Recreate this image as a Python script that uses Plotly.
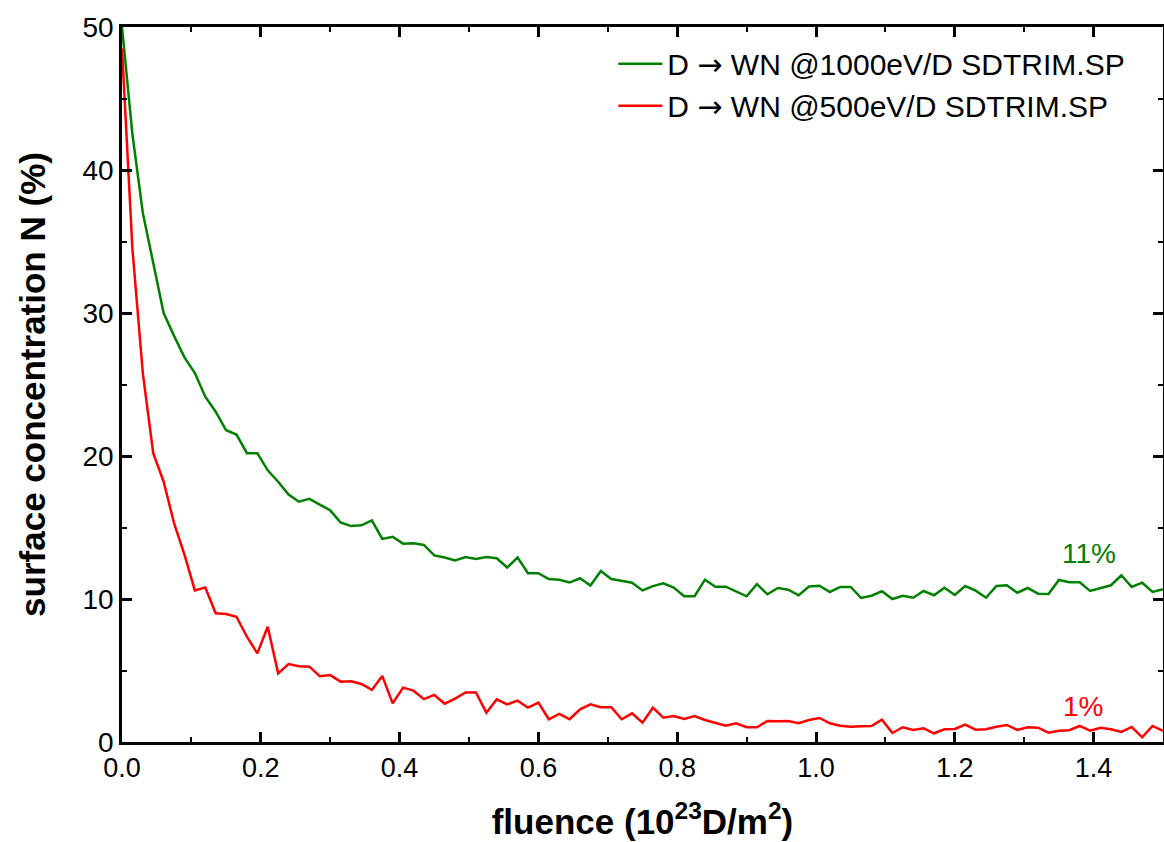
import plotly.graph_objects as go

fluence = [0.0, 0.015, 0.03, 0.045, 0.06, 0.075, 0.09, 0.105, 0.12, 0.135,
           0.15, 0.165, 0.18, 0.195, 0.21, 0.225, 0.24, 0.255, 0.27, 0.285,
           0.3, 0.315, 0.33, 0.345, 0.36, 0.375, 0.39, 0.405, 0.42, 0.435,
           0.45, 0.465, 0.48, 0.495, 0.51, 0.525, 0.54, 0.555, 0.57, 0.585,
           0.6, 0.615, 0.63, 0.645, 0.66, 0.675, 0.69, 0.705, 0.72, 0.735,
           0.75, 0.765, 0.78, 0.795, 0.81, 0.825, 0.84, 0.855, 0.87, 0.885,
           0.9, 0.915, 0.93, 0.945, 0.96, 0.975, 0.99, 1.005, 1.02, 1.035,
           1.05, 1.065, 1.08, 1.095, 1.11, 1.125, 1.14, 1.155, 1.17, 1.185,
           1.2, 1.215, 1.23, 1.245, 1.26, 1.275, 1.29, 1.305, 1.32, 1.335,
           1.35, 1.365, 1.38, 1.395, 1.41, 1.425, 1.44, 1.455, 1.47, 1.485,
           1.5]

conc_1000eV = [50.0, 42.5, 37.0, 33.5, 30.0, 28.4, 26.9, 25.8, 24.15, 23.1,
               21.8, 21.5, 20.2, 20.2, 19.0, 18.2, 17.3, 16.8, 17.0, 16.6,
               16.2, 15.35, 15.1, 15.15, 15.5, 14.2, 14.35, 13.87, 13.9, 13.78,
               13.05, 12.9, 12.7, 12.94, 12.8, 12.94, 12.85, 12.2, 12.9, 11.8,
               11.8, 11.4, 11.35, 11.15, 11.45, 10.95, 11.95, 11.4, 11.26, 11.14,
               10.6, 10.9, 11.1, 10.8, 10.2, 10.2, 11.35, 10.86, 10.86, 10.5,
               10.19, 11.05, 10.33, 10.77, 10.65, 10.26, 10.87, 10.93, 10.49, 10.84,
               10.84, 10.07, 10.23, 10.54, 10.0, 10.23, 10.09, 10.56, 10.26, 10.79,
               10.28, 10.91, 10.58, 10.09, 10.91, 10.96, 10.44, 10.77, 10.37, 10.35,
               11.33, 11.17, 11.17, 10.56, 10.75, 10.96, 11.66, 10.84, 11.14, 10.49,
               10.68]

conc_500eV = [48.5, 34.5, 25.8, 20.2, 18.2, 15.3, 13.1, 10.6, 10.8, 9.0,
              8.95, 8.76, 7.36, 6.2, 8.06, 4.8, 5.45, 5.3, 5.27, 4.6,
              4.68, 4.22, 4.24, 4.06, 3.64, 4.62, 2.7, 3.8, 3.59, 3.0,
              3.29, 2.68, 3.03, 3.47, 3.47, 2.05, 2.98, 2.63, 2.89, 2.4,
              2.75, 1.59, 1.96, 1.59, 2.29, 2.63, 2.43, 2.43, 1.59, 2.0,
              1.35, 2.4, 1.7, 1.82, 1.61, 1.82, 1.54, 1.35, 1.14, 1.31,
              1.03, 1.03, 1.47, 1.45, 1.47, 1.31, 1.54, 1.68, 1.31, 1.14,
              1.07, 1.1, 1.12, 1.56, 0.63, 1.03, 0.84, 0.96, 0.61, 0.89,
              0.91, 1.21, 0.86, 0.89, 1.07, 1.19, 0.84, 1.03, 1.0, 0.65,
              0.79, 0.82, 1.12, 0.79, 1.0, 0.89, 0.7, 1.05, 0.33, 1.12,
              0.77]

ARROW = '<span style="font-family:DejaVu Sans">\u2192</span>'
series_names = ["D " + ARROW + " WN @1000eV/D SDTRIM.SP",
                "D " + ARROW + " WN @500eV/D SDTRIM.SP"]
end_labels = ["11%", "1%"]
x_range = [0, 1.5]
y_range = [0, 50]
x_ticks = [0.0, 0.2, 0.4, 0.6, 0.8, 1.0, 1.2, 1.4]
x_ticktext = ["0.0", "0.2", "0.4", "0.6", "0.8", "1.0", "1.2", "1.4"]
y_ticks = [0, 10, 20, 30, 40, 50]

GREEN = "#008000"
RED = "#ff0000"
FONT = "Liberation Sans, Arial, Helvetica, sans-serif"

fig = go.Figure()
fig.add_trace(go.Scatter(x=fluence, y=conc_1000eV, mode="lines", name=series_names[0],
                         line=dict(color=GREEN, width=2.5), legendgroup="a"))
fig.add_trace(go.Scatter(x=fluence, y=conc_500eV, mode="lines", name=series_names[1],
                         line=dict(color=RED, width=2.5), legendgroup="b"))

fig.add_annotation(x=1.394, y=13.2, text=end_labels[0], showarrow=False,
                   font=dict(family=FONT, size=28, color=GREEN))
fig.add_annotation(x=1.384, y=2.5, text=end_labels[1], showarrow=False,
                   font=dict(family=FONT, size=28, color=RED))

axis_common = dict(showline=True, linecolor="black", linewidth=2.5, mirror=True,
                   ticks="inside", tickcolor="black", tickwidth=2.5, ticklen=10,
                   showgrid=False, zeroline=False, automargin=False)

fig.update_xaxes(range=x_range, tickvals=x_ticks, ticktext=x_ticktext,
                 tickfont=dict(family=FONT, size=27, color="black"),
                 minor=dict(dtick=0.1, tick0=0, ticks="inside", ticklen=5, tickwidth=2, tickcolor="black"),
                 title=dict(text="<b>fluence (10<sup>23</sup>D/m<sup>2</sup>)</b>",
                            font=dict(family=FONT, size=35, color="black"), standoff=28),
                 **axis_common)
fig.update_yaxes(range=y_range, tickvals=y_ticks,
                 tickfont=dict(family=FONT, size=28, color="black"),
                 minor=dict(dtick=5, tick0=0, ticks="inside", ticklen=5, tickwidth=2, tickcolor="black"),
                 title=dict(text="<b>surface concentration N (%)</b>",
                            font=dict(family=FONT, size=35, color="black"), standoff=27),
                 **axis_common)

# top and right axes carrying the mirrored inside ticks
fig.update_layout(
    xaxis2=dict(overlaying="x", side="top", range=x_range, tickvals=x_ticks,
                showticklabels=False, ticks="inside", ticklen=10, tickwidth=2.5,
                tickcolor="black", showline=False, showgrid=False, zeroline=False,
                automargin=False, anchor="y",
                minor=dict(dtick=0.1, tick0=0, ticks="inside", ticklen=5, tickwidth=2,
                           tickcolor="black", showgrid=False)),
    yaxis2=dict(overlaying="y", side="right", range=y_range, tickvals=y_ticks,
                showticklabels=False, ticks="inside", ticklen=10, tickwidth=2.5,
                tickcolor="black", showline=False, showgrid=False, zeroline=False,
                automargin=False, anchor="x",
                minor=dict(dtick=5, tick0=0, ticks="inside", ticklen=5, tickwidth=2,
                           tickcolor="black", showgrid=False)),
)
fig.add_trace(go.Scatter(x=[], y=[], xaxis="x2", yaxis="y2", showlegend=False,
                         hoverinfo="skip"))

fig.update_layout(
    width=1164, height=842,
    margin=dict(l=122, r=1, t=27, b=100, autoexpand=False),
    plot_bgcolor="white", paper_bgcolor="white",
    font=dict(family=FONT, color="black"),
    legend=dict(x=0.472, y=0.985, xanchor="left", yanchor="top",
                font=dict(family=FONT, size=30, color="black"),
                bgcolor="rgba(0,0,0,0)", tracegroupgap=0, itemwidth=44),
)

fig.write_html("out.html", config={"displayModeBar": False},
               post_script="document.body.style.margin='0';document.body.style.padding='0';document.body.style.overflow='hidden';")
